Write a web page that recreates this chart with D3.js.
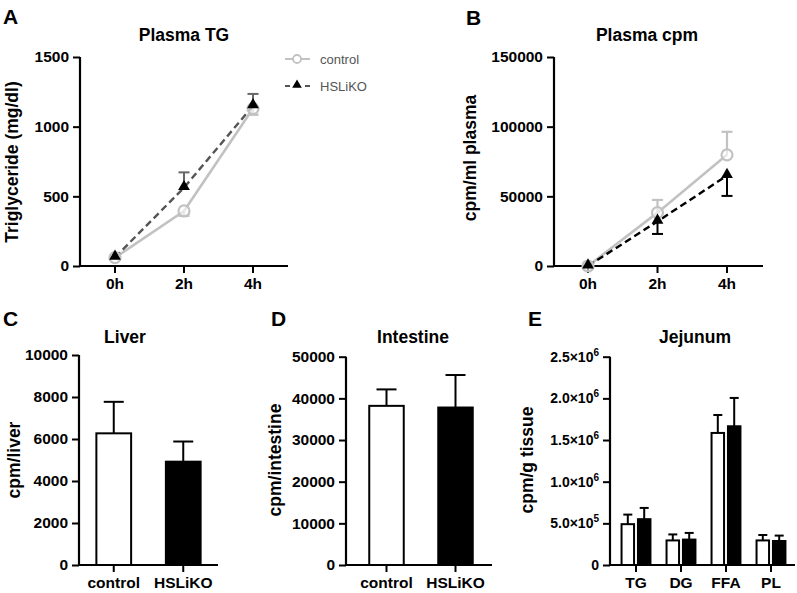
<!DOCTYPE html>
<html><head><meta charset="utf-8">
<script src="https://cdn.jsdelivr.net/npm/d3@7/dist/d3.min.js"></script>
<style>
html,body{margin:0;padding:0;background:#fff;}
svg{display:block;font-family:"Liberation Sans",Arial,sans-serif;}
</style></head>
<body>
<svg id="c" width="797" height="593"></svg>
<script>
// ---------- data ----------
const timeLabels = ["0h", "2h", "4h"];
const tgControl = [60, 395, 1130];
const tgControlErr = [0, 35, 45];        // drawn downward
const tgHSL = [62, 562, 1150];
const tgHSLErr = [0, 110, 85];           // drawn upward
const tgTicks = [0, 500, 1000, 1500];

const cpmControl = [0, 38300, 79800];
const cpmControlErr = [0, 9100, 16500];  // upward
const cpmHSL = [0, 32000, 64900];
const cpmHSLErr = [0, 9000, 14600];      // downward
const cpmTicks = [0, 50000, 100000, 150000];

const groups = ["control", "HSLiKO"];
const liverValues = [6270, 4920];
const liverErr = [1500, 960];
const liverTicks = [0, 2000, 4000, 6000, 8000, 10000];

const intestineValues = [38200, 37800];
const intestineErr = [3950, 7800];
const intestineTicks = [0, 10000, 20000, 30000, 40000, 50000];

const lipidClasses = ["TG", "DG", "FFA", "PL"];
const jejControl = [490000, 295000, 1585000, 295000];
const jejControlErr = [115000, 72000, 215000, 65000];
const jejHSL = [550000, 305000, 1665000, 288000];
const jejHSLErr = [135000, 80000, 340000, 65000];
const jejTicks = [0, 500000, 1000000, 1500000, 2000000, 2500000];

// ---------- setup ----------
const svg = d3.select("#c");
const FONT_TICK = 15.5, FONT_TITLE = 17.5, FONT_YLAB = 17.5, FONT_LETTER = 21;
const GRAY = "#c2c2c2", DARK = "#555555";

function panelLetter(txt, x, y) {
  svg.append("text").attr("x", x).attr("y", y).attr("font-size", FONT_LETTER)
    .attr("font-weight", "bold").text(txt);
}
function title(txt, x, y) {
  svg.append("text").attr("x", x).attr("y", y).attr("text-anchor", "middle")
    .attr("font-size", FONT_TITLE).attr("font-weight", "bold").text(txt);
}
function yLabel(txt, x, cy) {
  svg.append("text").attr("transform", `translate(${x},${cy}) rotate(-90)`)
    .attr("text-anchor", "middle").attr("font-size", FONT_YLAB).attr("font-weight", "bold").text(txt);
}
function yAxis(y, x, ticks, fmt, fs) {
  const g = svg.append("g").attr("transform", `translate(${x},0)`)
    .call(d3.axisLeft(y).tickValues(ticks).tickSize(7).tickSizeOuter(0).tickPadding(4).tickFormat(fmt));
  g.select(".domain").attr("stroke-width", 2.2).attr("d", `M0,${y.range()[0] + 1}V${y.range()[1]}`);
  g.selectAll(".tick line").attr("stroke-width", 2);
  g.selectAll(".tick text").attr("font-size", fs || FONT_TICK).attr("font-weight", "bold")
    .attr("fill", "#000").attr("font-family", '"Liberation Sans",Arial,sans-serif');
  return g;
}
function xAxis(xPos, labels, x0, x1, yb, fs) {
  svg.append("line").attr("x1", x0 - 1).attr("x2", x1).attr("y1", yb).attr("y2", yb)
    .attr("stroke", "#000").attr("stroke-width", 2.2);
  labels.forEach((l, i) => {
    svg.append("line").attr("x1", xPos[i]).attr("x2", xPos[i]).attr("y1", yb).attr("y2", yb + 7)
      .attr("stroke", "#000").attr("stroke-width", 2);
    svg.append("text").attr("x", xPos[i]).attr("y", yb + 23).attr("text-anchor", "middle")
      .attr("font-size", fs || FONT_TICK).attr("font-weight", "bold").text(l);
  });
}
function errBar(x, y0, y1, cap, color, w) {
  svg.append("line").attr("x1", x).attr("x2", x).attr("y1", y0).attr("y2", y1)
    .attr("stroke", color).attr("stroke-width", w || 2);
  svg.append("line").attr("x1", x - cap / 2).attr("x2", x + cap / 2).attr("y1", y1).attr("y2", y1)
    .attr("stroke", color).attr("stroke-width", w || 2);
}
const tri = d3.symbol().type(d3.symbolTriangle).size(60);

// ---------- line panel ----------
function linePanel(opt) {
  const y = d3.scaleLinear().domain([0, opt.max]).range([266, 57]);
  const x = d3.scalePoint().domain(timeLabels).range(opt.xr);
  const xs = timeLabels.map(t => x(t));
  yAxis(y, opt.ax, opt.ticks, d3.format("d"));
  xAxis(xs, timeLabels, opt.ax, opt.xend, 266);
  timeLabels.forEach((t, i) => {
    if (opt.cErr[i] > 0) errBar(x(t), y(opt.c[i]), y(opt.c[i] + opt.cDir * opt.cErr[i]), 11, GRAY, 2.2);
    if (opt.hErr[i] > 0) errBar(x(t), y(opt.h[i]), y(opt.h[i] + opt.hDir * opt.hErr[i]), 11, opt.hErrColor, 2);
  });
  const line = d3.line().x((d, i) => xs[i]).y(d => y(d));
  svg.append("path").datum(opt.c).attr("d", line).attr("fill", "none")
    .attr("stroke", GRAY).attr("stroke-width", 2.6);
  svg.append("path").datum(opt.h).attr("d", line).attr("fill", "none")
    .attr("stroke", opt.hLine).attr("stroke-width", 2.4).attr("stroke-dasharray", "7,4");
  opt.c.forEach((v, i) => {
    svg.append("circle").attr("cx", xs[i]).attr("cy", y(v)).attr("r", 5.5)
      .attr("fill", "#fff").attr("fill-opacity", 0.6).attr("stroke", GRAY).attr("stroke-width", 2.2);
  });
  opt.h.forEach((v, i) => {
    svg.append("path").attr("d", tri).attr("transform", `translate(${xs[i]},${y(v) - 1})`).attr("fill", "#000");
  });
}

// Panel A
panelLetter("A", 3, 24);
title("Plasma TG", 184, 41);
yLabel("Triglyceride (mg/dl)", 18, 162);
linePanel({ max: 1500, ticks: tgTicks, ax: 80, xr: [115, 253], xend: 288,
  c: tgControl, cErr: tgControlErr, cDir: -1,
  h: tgHSL, hErr: tgHSLErr, hDir: 1, hLine: DARK, hErrColor: "#666" });

// legend
svg.append("line").attr("x1", 285).attr("x2", 310).attr("y1", 59).attr("y2", 59).attr("stroke", GRAY).attr("stroke-width", 2);
svg.append("circle").attr("cx", 297).attr("cy", 59).attr("r", 4).attr("fill", "#fff").attr("stroke", GRAY).attr("stroke-width", 1.8);
svg.append("text").attr("x", 320).attr("y", 63.5).attr("font-size", 13).attr("fill", "#555").text("control");
svg.append("line").attr("x1", 285).attr("x2", 310).attr("y1", 86).attr("y2", 86).attr("stroke", DARK).attr("stroke-width", 2).attr("stroke-dasharray", "5,15");
svg.append("path").attr("d", d3.symbol().type(d3.symbolTriangle).size(40)).attr("transform", "translate(297,85)").attr("fill", "#000");
svg.append("text").attr("x", 320).attr("y", 90.5).attr("font-size", 13).attr("fill", "#555").text("HSLiKO");

// Panel B
panelLetter("B", 466, 25);
title("Plasma cpm", 647, 41);
yLabel("cpm/ml plasma", 476, 158);
linePanel({ max: 150000, ticks: cpmTicks, ax: 554, xr: [588, 727], xend: 763,
  c: cpmControl, cErr: cpmControlErr, cDir: 1,
  h: cpmHSL, hErr: cpmHSLErr, hDir: -1, hLine: "#000", hErrColor: "#000" });

// ---------- bar panels ----------
function barPanel(opt) {
  const y = d3.scaleLinear().domain([0, opt.max]).range([565, opt.top]);
  const x = d3.scaleBand().domain(groups).range(opt.xr).paddingInner(0.5).paddingOuter(0.25);
  yAxis(y, opt.ax, opt.ticks, d3.format("d"));
  groups.forEach((g, i) => {
    const cx = x(g) + x.bandwidth() / 2;
    errBar(cx, y(opt.vals[i]), y(opt.vals[i] + opt.err[i]), 20, "#000", 2);
    svg.append("rect").attr("x", x(g)).attr("y", y(opt.vals[i])).attr("width", x.bandwidth())
      .attr("height", y(0) - y(opt.vals[i])).attr("fill", i === 0 ? "#fff" : "#000")
      .attr("stroke", "#000").attr("stroke-width", 2);
  });
  xAxis(groups.map(g => x(g) + x.bandwidth() / 2), groups, opt.ax, opt.xend, 565);
}

panelLetter("C", 3, 326);
title("Liver", 125, 343);
yLabel("cpm/liver", 20, 460);
barPanel({ max: 10000, top: 355, ticks: liverTicks, vals: liverValues, err: liverErr, ax: 79, xr: [79, 218], xend: 218 });

panelLetter("D", 271, 326);
title("Intestine", 413, 343);
yLabel("cpm/intestine", 281, 460);
barPanel({ max: 50000, top: 356.7, ticks: intestineTicks, vals: intestineValues, err: intestineErr, ax: 346, xr: [352, 490], xend: 492 });

// Panel E
panelLetter("E", 528, 326);
title("Jejunum", 695, 343);
yLabel("cpm/g tissue", 533, 460);
(function () {
  const y = d3.scaleLinear().domain([0, 2500000]).range([565, 356.7]);
  const x = d3.scalePoint().domain(lipidClasses).range([636, 771]);
  const g = yAxis(y, 610, jejTicks, d3.format("d"), 14);
  g.selectAll(".tick text").each(function (d) {
    const t = d3.select(this);
    t.text(null);
    if (d === 0) { t.text("0"); return; }
    const e = Math.floor(Math.log10(d));
    const m = d / Math.pow(10, e);
    t.append("tspan").text(m.toFixed(1) + "×10");
    t.append("tspan").attr("dy", -6).attr("font-size", 10).text(e);
  });
  const bw = 12.5, off = 8.2;
  lipidClasses.forEach((c, i) => {
    const cx = x(c);
    errBar(cx - off, y(jejControl[i]), y(jejControl[i] + jejControlErr[i]), 9, "#000", 2);
    errBar(cx + off, y(jejHSL[i]), y(jejHSL[i] + jejHSLErr[i]), 9, "#000", 2);
    svg.append("rect").attr("x", cx - off - bw / 2).attr("y", y(jejControl[i])).attr("width", bw)
      .attr("height", y(0) - y(jejControl[i])).attr("fill", "#fff").attr("stroke", "#000").attr("stroke-width", 2);
    svg.append("rect").attr("x", cx + off - bw / 2).attr("y", y(jejHSL[i])).attr("width", bw)
      .attr("height", y(0) - y(jejHSL[i])).attr("fill", "#000").attr("stroke", "#000").attr("stroke-width", 2);
  });
  xAxis(lipidClasses.map(c => x(c)), lipidClasses, 610, 795, 565);
})();
</script>
</body></html>
